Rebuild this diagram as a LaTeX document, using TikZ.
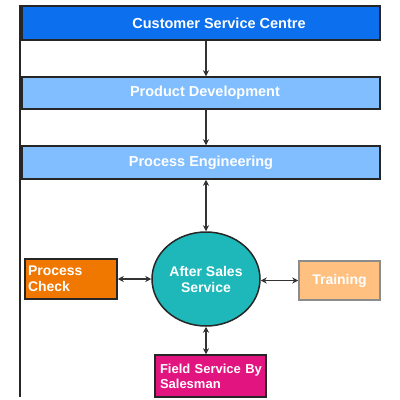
\documentclass[tikz,border=0pt]{standalone}
\usepackage{fontspec}
\setmainfont{Liberation Sans}
\usetikzlibrary{arrows.meta, shapes.geometric}
\definecolor{cscblue}{RGB}{12,112,238}
\definecolor{pdblue}{RGB}{128,190,255}
\definecolor{asteal}{RGB}{30,184,186}
\definecolor{pcorange}{RGB}{240,120,0}
\definecolor{trpeach}{RGB}{255,192,128}
\definecolor{fsmagenta}{RGB}{226,20,128}

\begin{document}
\begin{tikzpicture}[x=1pt, y=-1pt,
    band/.style={draw=black!85, line width=1.5pt, minimum width=358pt,
      inner sep=0pt, text=white, font=\bfseries\fontsize{14.5}{16}\selectfont},
    side/.style={draw=black!85, line width=1.5pt, inner sep=3pt,
      text=white, font=\bfseries\fontsize{14}{16}\selectfont},
    link/.style={-{Stealth[length=6pt, width=6pt]}, line width=1.1pt, black!80},
    both/.style={{Stealth[length=6pt, width=6pt]}-{Stealth[length=6pt, width=6pt]}, line width=1.1pt, black!80}]
    \useasboundingbox (0,0) rectangle (400,400);

    % left margin rule
    \draw[line width=1.2pt, black!85] (20,5) -- (20,397);

    % stacked departments
    \node[band, fill=cscblue, minimum height=34pt] (csc) at (201,23) {\hspace*{36pt}Customer Service Centre};
    \node[band, fill=pdblue, minimum height=32pt] (pd) at (201,93) {\hspace*{8pt}Product Development};
    \node[band, fill=pdblue, minimum height=33pt] (pe) at (201,162.5) {Process Engineering};

    % after sales hub
    \node[ellipse, draw=black!85, line width=1.5pt, fill=asteal, minimum width=108pt,
      minimum height=94pt, inner sep=0pt, align=center, text=white,
      font=\bfseries\fontsize{14}{16}\selectfont] (ass) at (206,279) {After Sales\\Service};

    \node[side, fill=pcorange, minimum width=92pt, minimum height=40pt,
      text width=86pt, align=left] (pc) at (71,279) {Process\\Check};
    \node[side, fill=trpeach, draw=black!45, minimum width=81pt, minimum height=39pt,
      align=center] (tr) at (339.5,280.5) {Training};
    \node[side, fill=fsmagenta, minimum width=111pt, minimum height=42pt,
      text width=105pt, align=left, font=\bfseries\fontsize{13}{15}\selectfont] (fs) at (210.5,376) {\hspace*{2pt}Field Service By\\\hspace*{2pt}Salesman};

    % flow
    \draw[link] (csc.south -| ass) -- (pd.north -| ass);
    \draw[link] (pd.south -| ass) -- (pe.north -| ass);
    \draw[both] (pe.south -| ass) -- (ass.north);
    \draw[both] (pc.east) -- (ass.west);
    \draw[both] (ass.east |- tr) -- (tr.west);
    \draw[both] (ass.south) -- (fs.north -| ass);
\end{tikzpicture}
\end{document}
